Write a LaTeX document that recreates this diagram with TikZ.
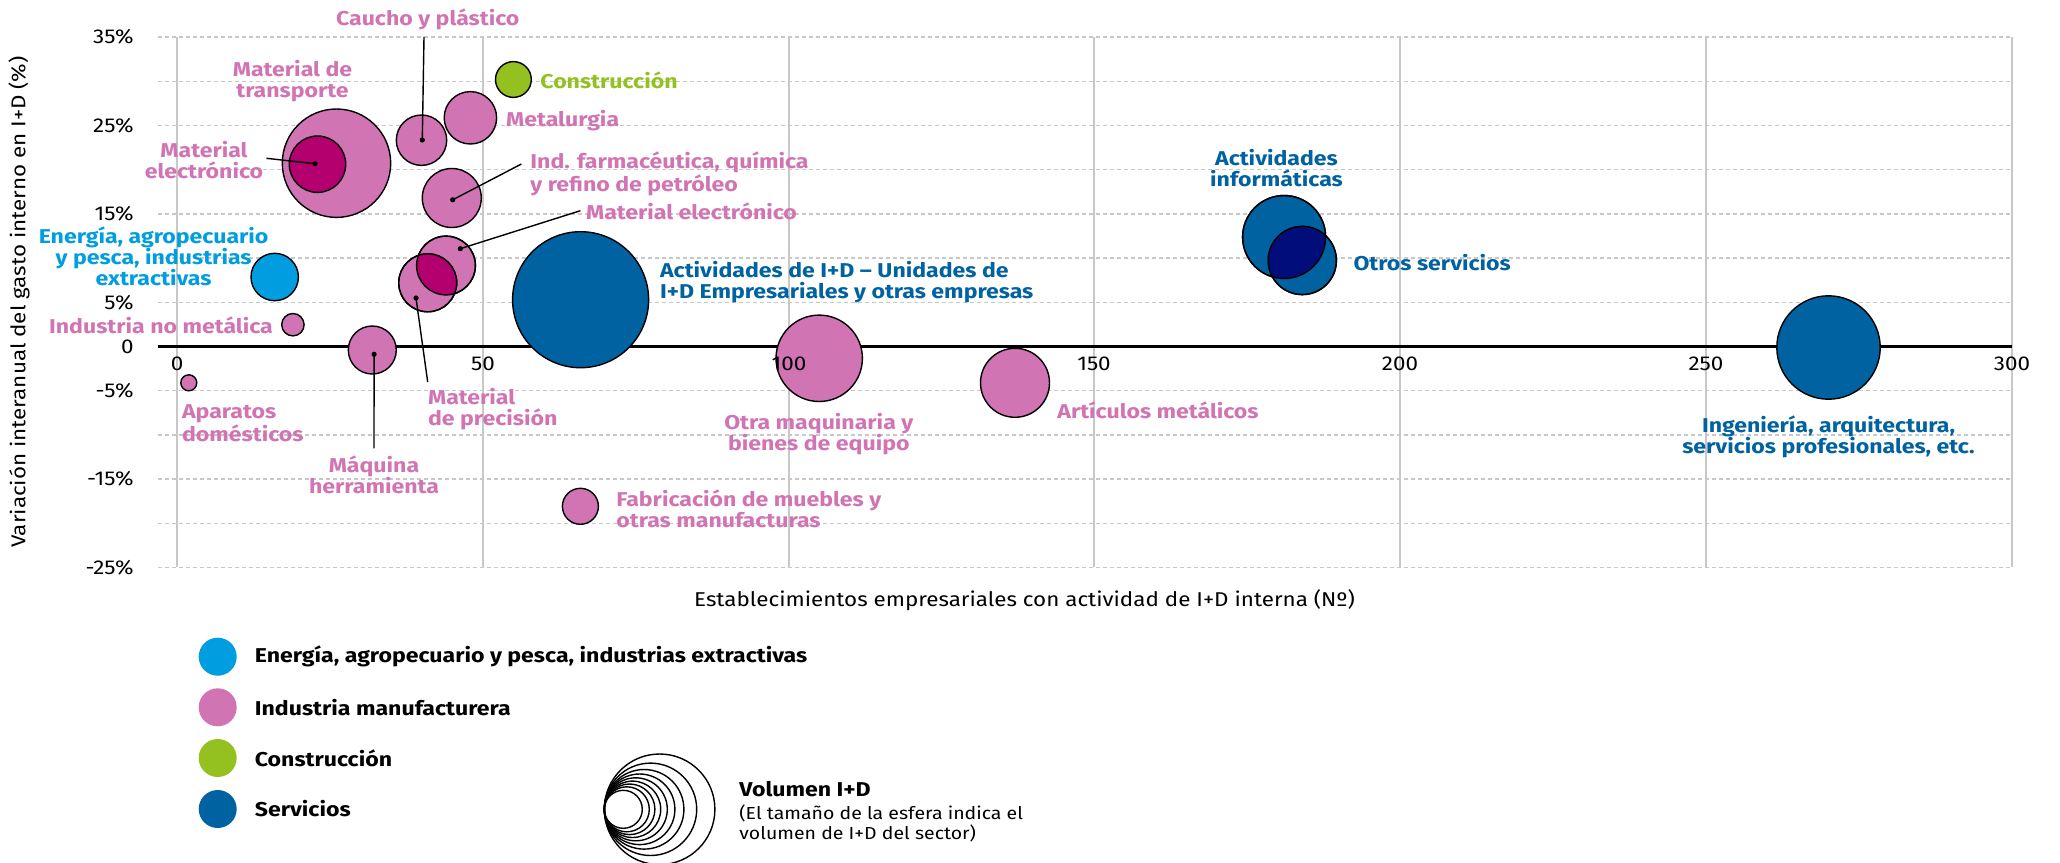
\documentclass[tikz,border=0pt]{standalone}
\usepackage{fontspec}
\setmainfont{Fira Sans}[FakeStretch=1.12, BoldFeatures={FakeStretch=1.155}]
\definecolor{cpink}{RGB}{209,116,180}
\definecolor{cmag}{RGB}{179,0,110}
\definecolor{ccyan}{RGB}{0,158,224}
\definecolor{cgreen}{RGB}{148,193,31}
\definecolor{cblue}{RGB}{0,98,160}
\definecolor{cnavy}{RGB}{0,13,122}
\definecolor{cgrid}{RGB}{200,200,200}
\tikzset{
  bub/.style={circle, draw=black, line width=0.7pt, inner sep=0pt, outer sep=0pt},
  dotn/.style={circle, fill=black, inner sep=0pt, minimum size=2.6pt},
  leader/.style={line width=0.7pt, black},
  lab/.style={font=\fontsize{10}{10.5}\selectfont\bfseries, inner sep=0pt},
  tick/.style={font=\fontsize{10}{12}\selectfont, inner sep=0pt},
  hgrid/.style={cgrid, line width=0.75pt, dash pattern=on 2pt off 1.5pt},
  vgrid/.style={cgrid, line width=1pt},
  legc/.style={circle, inner sep=0pt, minimum size=19pt},
  legt/.style={font=\fontsize{10}{12}\selectfont\bfseries, inner sep=0pt, anchor=west},
}
\begin{document}
\begin{tikzpicture}[x=0.5pt,y=-0.5pt]
\useasboundingbox (0,0) rectangle (2060,862);
\fill[white] (0,0) rectangle (2060,862);

% grid
\foreach \p in {35,30,25,20,15,10,5,-5,-10,-15,-20,-25}
  \draw[hgrid] (158,{346.5-8.84*\p}) -- (2012,{346.5-8.84*\p});
\foreach \x in {177,483,789,1094,1400,1706,2012}
  \draw[vgrid] (\x,37) -- (\x,567);
\draw[line width=1.5pt] (158,346.5) -- (2012,346.5);

% y tick labels
\foreach \p/\t [count=\i] in {35/35\%,25/25\%,15/15\%,5/5\%,0/0,-5/-5\%,-15/-15\%,-25/-25\%}
  \node[tick, anchor=east] (yt\i) at (134,{346.5-8.84*\p}) {\t};

% axis titles
\node[tick, rotate=90] (ytitle) at (19,302) {Variación interanual del gasto interno en I+D (\%)};
\node[tick] (xtitle) at (1024.5,600) {Establecimientos empresariales con actividad de I+D interna (N\kern0ptº)};

% bubbles
\node[bub, fill=cpink, minimum size=54.2pt] (transp) at (336.5,163.2) {};
\node[bub, fill=cmag, minimum size=28.2pt] (elec1) at (317.5,164.2) {};
\node[bub, fill=cpink, minimum size=25.2pt] (caucho) at (421.5,140.2) {};
\node[bub, fill=cpink, minimum size=26.2pt] (metal) at (470.4,117.8) {};
\node[bub, fill=cgreen, minimum size=17.9pt] (const) at (513.4,79.5) {};
\node[bub, fill=cpink, minimum size=29.5pt] (farma) at (451.8,198) {};
\node[bub, fill=cpink, minimum size=29.4pt] (elec2) at (446,265.5) {};
\node[bub, fill=cpink, minimum size=29pt] (prec) at (427.7,282.8) {};
\begin{scope}
  \clip (446,265.5) circle[radius=29.4];
  \fill[cmag] (427.7,282.8) circle[radius=29];
\end{scope}
\draw[line width=0.7pt] (elec2.center) circle[radius=29.4];
\draw[line width=0.7pt] (prec.center) circle[radius=29];
\node[bub, fill=ccyan, minimum size=23.7pt] (energ) at (274.7,277) {};
\node[bub, fill=cpink, minimum size=11.2pt] (nomet) at (292.9,324.7) {};
\node[bub, fill=cpink, minimum size=24pt] (maq) at (372.3,350) {};
\node[bub, fill=cpink, minimum size=8pt] (apar) at (188.8,382.8) {};
\node[bub, fill=cpink, minimum size=18pt] (mueb) at (580.4,506.3) {};
\node[bub, fill=cblue, minimum size=68pt] (imasd) at (580.6,299.7) {};
\node[bub, fill=cpink, minimum size=43.2pt] (otra) at (819.2,358.3) {};
\node[bub, fill=cpink, minimum size=34.5pt] (artic) at (1015,382.8) {};
\node[bub, fill=cblue, minimum size=41.5pt] (info) at (1284.1,237) {};
\node[bub, fill=cblue, minimum size=34.1pt] (otros) at (1302.3,260.5) {};
\begin{scope}
  \clip (1284.1,237) circle[radius=41.5];
  \fill[cnavy] (1302.3,260.5) circle[radius=34.1];
\end{scope}
\draw[line width=0.7pt] (info.center) circle[radius=41.5];
\draw[line width=0.7pt] (otros.center) circle[radius=34.1];
\node[bub, fill=cblue, minimum size=51.7pt] (inge) at (1828.5,347.5) {};

% x tick labels (drawn over the bubbles)
\foreach \x/\t in {177/0,483/50,789/100,1094/150,1400/200,1706/250,2012/300}
  \node[tick] (xt\t) at (\x,363.5) {\t};

% dots and leaders
\node[dotn] (delec1) at (315,163.7) {};
\node[dotn] (dcaucho) at (422.3,140) {};
\node[dotn] (dfarma) at (452.7,199.8) {};
\node[dotn] (delec2) at (460.3,248.7) {};
\node[dotn] (dprec) at (416,298) {};
\node[dotn] (dmaq) at (374.1,354.3) {};
\coordinate (eelec1) at (266.5,158.3);
\coordinate (ecaucho) at (424,37);
\coordinate (efarma) at (521.4,164);
\coordinate (eelec2) at (580.4,210.7);
\coordinate (eprec) at (427.7,382);
\coordinate (emaq) at (374,448.3);
\draw[leader] (delec1.center) -- (eelec1);
\draw[leader] (dcaucho.center) -- (ecaucho);
\draw[leader] (dfarma.center) -- (efarma);
\draw[leader] (delec2.center) -- (eelec2);
\draw[leader] (dprec.center) -- (eprec);
\draw[leader] (dmaq.center) -- (emaq);

% labels
\node[lab, text=cpink] (lcaucho) at (427.7,19.3) {Caucho y plástico};
\node[lab, text=cpink, align=center] (ltransp) at (292.5,81.2) {Material de\\transporte};
\node[lab, text=cpink, align=center] (lelec1) at (204,160.2) {Material\\electrónico};
\node[lab, text=cpink, anchor=west] (lmetal) at (505.8,120.7) {Metalurgia};
\node[lab, text=cgreen, anchor=west] (lconst) at (540,80.7) {Construcción};
\node[lab, text=cpink, anchor=west, align=left] (lfarma) at (530,173.7) {Ind. farmacéutica, química\\y refino de petróleo};
\node[lab, text=cpink, anchor=west] (lelec2) at (585.7,211.3) {Material electrónico};
\node[lab, text=ccyan, align=center] (lenerg) at (153.6,256.7) {Energía, agropecuario\\y pesca, industrias\\extractivas};
\node[lab, text=cpink, anchor=east] (lnomet) at (273.2,325) {Industria no metálica};
\node[lab, text=cpink, anchor=west, align=left] (lapar) at (181.7,423) {Aparatos\\domésticos};
\node[lab, text=cpink, align=center] (lmaq) at (374,475.3) {Máquina\\herramienta};
\node[lab, text=cpink, anchor=west, align=left] (lprec) at (427.7,409.2) {Material\\de precisión};
\node[lab, text=cpink, anchor=west, align=left] (lmueb) at (616,509.2) {Fabricación de muebles y\\otras manufacturas};
\node[lab, text=cblue, anchor=west, align=left] (lid) at (659.7,282.2) {Actividades de I+D – Unidades de\\I+D Empresariales y otras empresas};
\node[lab, text=cpink, align=center] (lotra) at (818.8,434.2) {Otra maquinaria y\\bienes de equipo};
\node[lab, text=cpink, anchor=west] (lartic) at (1057,410.7) {Artículos metálicos};
\node[lab, text=cblue, align=center] (linfo) at (1276.5,168.5) {Actividades\\informáticas};
\node[lab, text=cblue, anchor=west] (lotros) at (1353.1,262.7) {Otros servicios};
\node[lab, text=cblue, align=center] (linge) at (1828.5,436.4) {Ingeniería, arquitectura,\\servicios profesionales, etc.};

% legend
\node[legc, fill=ccyan] (lg1) at (217.7,656.7) {};
\node[legc, fill=cpink] (lg2) at (217.7,707.3) {};
\node[legc, fill=cgreen] (lg3) at (217.7,758) {};
\node[legc, fill=cblue] (lg4) at (217.7,809) {};
\node[legt] (lt1) at (254.5,656.7) {Energía, agropecuario y pesca, industrias extractivas};
\node[legt] (lt2) at (254.5,707.3) {Industria manufacturera};
\node[legt] (lt3) at (254.5,758) {Construcción};
\node[legt] (lt4) at (254.5,809) {Servicios};

\foreach \r in {55.3,46.2,39.8,35.3,31.5,28.2,25.3,22.5,19}
  \draw[line width=0.7pt] ({604.3+\r},809.3) circle[radius=\r];
\node[legt] (vtit) at (739,789) {Volumen I+D};
\node[inner sep=0pt, anchor=west, align=left, font=\fontsize{8.7}{10}\selectfont] (vsub) at (739,823.3) {(El tamaño de la esfera indica el\\volumen de I+D del sector)};
\end{tikzpicture}
\end{document}
